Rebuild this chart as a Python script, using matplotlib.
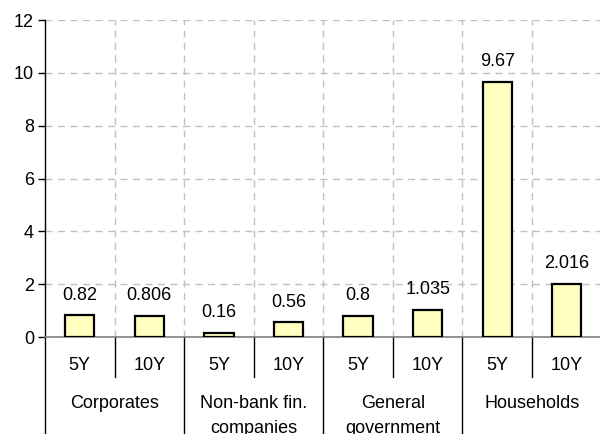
import matplotlib
matplotlib.use("Agg")
import matplotlib.pyplot as plt
import matplotlib.transforms as mtransforms
import numpy as np

plt.rcParams['font.family'] = ['Liberation Sans', 'DejaVu Sans']

groups = ["Corporates", "Non-bank fin.\ncompanies", "General\ngovernment", "Households"]
tenors = ["5Y", "10Y"]
values = [0.82, 0.806, 0.16, 0.56, 0.8, 1.035, 9.67, 2.016]
value_labels = ["0.82", "0.806", "0.16", "0.56", "0.8", "1.035", "9.67", "2.016"]
yticks = [0, 2, 4, 6, 8, 10, 12]

fig = plt.figure(figsize=(6.0, 4.34), dpi=100)
ax = fig.add_axes([0.075, 0.2235, 0.9277, 0.7304])

n = len(values)
x = np.arange(n)
ax.bar(x, values, width=0.42, color='#ffffc0', edgecolor='black', linewidth=1.6, zorder=3)

ax.set_xlim(-0.5, n - 0.5)
ax.set_ylim(0, 12)
ax.set_yticks(yticks)
ax.tick_params(axis='y', labelsize=13, length=5, width=1, direction='out', pad=3)
ax.set_xticks([])
ax.set_xticks(np.arange(0.5, n - 0.5, 1.0), minor=True)
ax.tick_params(axis='x', which='minor', length=0)

ax.yaxis.grid(True, color='#c0c0c0', linestyle=(0, (5, 4)), linewidth=1)
ax.xaxis.grid(True, which='minor', color='#c0c0c0', linestyle=(0, (5, 4)), linewidth=1)
ax.set_axisbelow(True)

for s in ['top', 'right']:
    ax.spines[s].set_visible(False)
ax.spines['left'].set_color('black')
ax.spines['left'].set_linewidth(1)
ax.spines['bottom'].set_color('#808080')
ax.spines['bottom'].set_linewidth(1.2)

# value labels
for xi, v, lab in zip(x, values, value_labels):
    ax.annotate(lab, (xi, v), xytext=(0, 11.2), textcoords='offset points',
                ha='center', va='baseline', fontsize=13)

# category labels
trans = mtransforms.blended_transform_factory(ax.transData, ax.transAxes)
for i in range(n):
    ax.annotate(tenors[i % 2], (i, 0), xycoords=trans, xytext=(0, -20.8),
                textcoords='offset points', ha='center', va='center', fontsize=13)
for g, name in enumerate(groups):
    ax.annotate(name, (2 * g + 0.5, 0), xycoords=trans, xytext=(0, -41.5),
                textcoords='offset points', ha='center', va='top', fontsize=13,
                linespacing=1.68)

# separators
for i in range(n + 1):
    b = i - 0.5
    if i % 2 == 1:
        ax.plot([b, b], [0, -0.126], transform=trans, color='black', lw=1, clip_on=False)
    else:
        ax.plot([b, b], [0, -0.4], transform=trans, color='black', lw=1, clip_on=False)

fig.savefig("out.png", dpi=100)
